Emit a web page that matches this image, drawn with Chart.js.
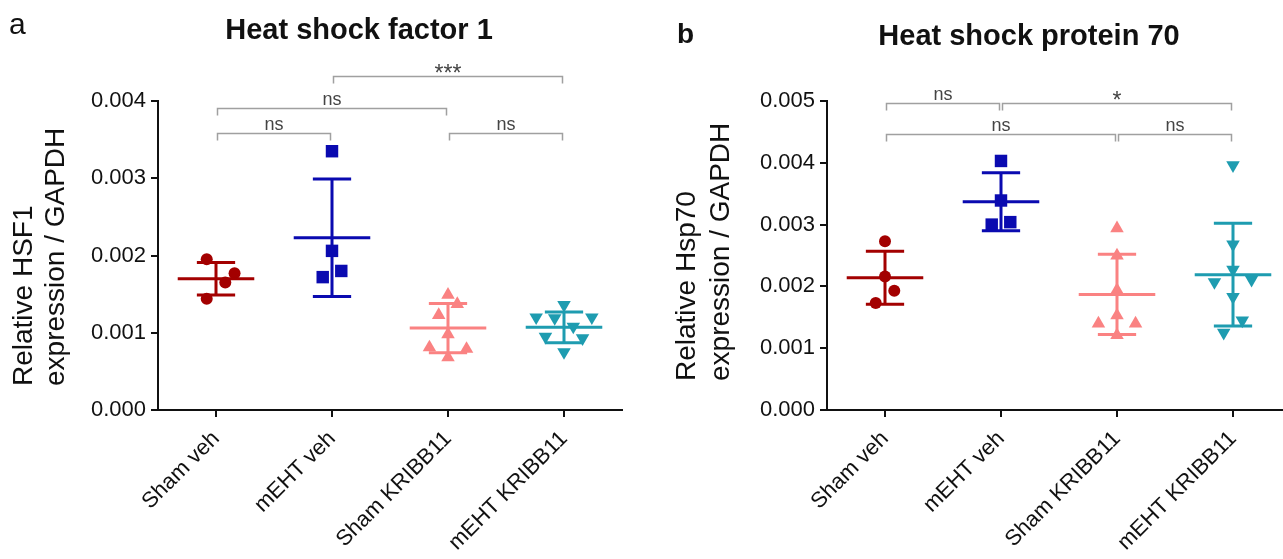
<!DOCTYPE html>
<html>
<head>
<meta charset="utf-8">
<script src="https://cdn.jsdelivr.net/npm/chart.js@4.4.1/dist/chart.umd.min.js"></script>
<style>
  html, body { margin: 0; padding: 0; background: #fff; width: 1283px; height: 559px; overflow: hidden; }
  .panel { position: absolute; top: 0; height: 559px; }
  #wrapA { left: 0; width: 718px; }
  #wrapB { left: 650px; width: 758px; }
  .txt { position: absolute; font-family: "Liberation Sans", Arial, sans-serif; color: #111; line-height: 1; white-space: nowrap; }
  .title { font-size: 29px; font-weight: bold; transform: translateX(-50%); }
</style>
</head>
<body>
<div class="panel" id="wrapA"><canvas id="chartA" width="718" height="559"></canvas></div>
<div class="panel" id="wrapB"><canvas id="chartB" width="758" height="559"></canvas></div>
<div class="txt" style="left:9px;top:9px;font-size:30px;">a</div>
<div class="txt" style="left:677px;top:20px;font-size:28px;font-weight:bold;">b</div>
<div class="txt title" style="left:359px;top:15px;">Heat shock factor 1</div>
<div class="txt title" style="left:1029px;top:21px;">Heat shock protein 70</div>
<script>
// groups / tick labels
const groups = ['Sham veh', 'mEHT veh', 'Sham KRIBB11', 'mEHT KRIBB11'];
const yTicksA = [0, 0.001, 0.002, 0.003, 0.004];
const yTickLabelsA = ['0.000', '0.001', '0.002', '0.003', '0.004'];
const yTicksB = [0, 0.001, 0.002, 0.003, 0.004, 0.005];
const yTickLabelsB = ['0.000', '0.001', '0.002', '0.003', '0.004', '0.005'];

// a: HSF1 / GAPDH, individual animals
const hsf1ShamVeh = [0.00195, 0.00177, 0.00165, 0.00144];
const hsf1MehtVeh = [0.00335, 0.00206, 0.00180, 0.00172];
const hsf1ShamKribb = [0.00149, 0.00137, 0.00123, 0.00098, 0.00081, 0.00079, 0.00068];
const hsf1MehtKribb = [0.00136, 0.00120, 0.00119, 0.00120, 0.00108, 0.00095, 0.00093, 0.00075];
const hsf1Mean = [0.00170, 0.00223, 0.00106, 0.00107];
const hsf1Sd = [0.00021, 0.00076, 0.00032, 0.00020];
// horizontal scatter of the dots, in category units
const hsf1Jitter = [
  [-0.08, 0.16, 0.08, -0.08],
  [0, 0, 0.08, -0.08],
  [0, 0.08, -0.08, 0, -0.16, 0.16, 0],
  [0, -0.24, -0.08, 0.24, 0.08, -0.16, 0.16, 0]
];
const bracketFromA = [0, 0, 1, 2];
const bracketToA = [1, 2, 3, 3];
const bracketLevelA = [0.00358, 0.00391, 0.00432, 0.00358];
const bracketLabelA = ['ns', 'ns', '***', 'ns'];

// b: Hsp70 / GAPDH
const hsp70ShamVeh = [0.00273, 0.00216, 0.00193, 0.00173];
const hsp70MehtVeh = [0.00403, 0.00339, 0.00300, 0.00304];
const hsp70ShamKribb = [0.00294, 0.00250, 0.00194, 0.00153, 0.00140, 0.00140, 0.00121];
const hsp70MehtKribb = [0.00396, 0.00268, 0.00227, 0.00207, 0.00211, 0.00183, 0.00145, 0.00125];
const hsp70Mean = [0.00214, 0.00337, 0.00187, 0.00219];
const hsp70Sd = [0.00043, 0.00047, 0.00065, 0.00083];
const hsp70Jitter = [
  [0, 0, 0.08, -0.08],
  [0, 0, -0.08, 0.08],
  [0, 0, 0, 0, -0.16, 0.16, 0],
  [0, 0, 0, -0.16, 0.16, 0, 0.08, -0.08]
];
const bracketFromB = [0, 1, 0, 2];
const bracketToB = [1, 3, 2, 3];
const bracketLevelB = [0.00496, 0.00496, 0.00447, 0.00447];
const bracketLabelB = ['ns', '*', 'ns', 'ns'];

const colors = ['#a30000', '#0a0ab0', '#fa8282', '#1e9cb0'];
const shapes = ['circle', 'rect', 'triangle', 'triangle'];
const radii = [6, 8.8, 7.8, 7.8];
const rotations = [0, 0, 0, 180];
const FONT = '"Liberation Sans", Arial, sans-serif';

function statsPlugin(cfg) {
  return {
    id: 'stats',
    afterDatasetsDraw(chart) {
      const { ctx, scales: { x, y } } = chart;
      ctx.save();
      ctx.lineCap = 'butt';
      cfg.mean.forEach((m, i) => {
        const cx = x.getPixelForValue(i);
        const hw = x.getPixelForValue(i + 0.33) - cx;
        const cw = x.getPixelForValue(i + 0.165) - cx;
        const yTop = y.getPixelForValue(m + cfg.sd[i]);
        const yBot = y.getPixelForValue(m - cfg.sd[i]);
        const yMid = y.getPixelForValue(m);
        ctx.strokeStyle = colors[i];
        ctx.lineWidth = 3;
        ctx.beginPath();
        ctx.moveTo(cx - hw, yMid); ctx.lineTo(cx + hw, yMid);
        ctx.moveTo(cx, yTop); ctx.lineTo(cx, yBot);
        ctx.moveTo(cx - cw, yTop); ctx.lineTo(cx + cw, yTop);
        ctx.moveTo(cx - cw, yBot); ctx.lineTo(cx + cw, yBot);
        ctx.stroke();
      });
      cfg.bFrom.forEach((f, k) => {
        const x1 = x.getPixelForValue(f) + 1.5;
        const x2 = x.getPixelForValue(cfg.bTo[k]) - 1.5;
        const yy = Math.round(y.getPixelForValue(cfg.bLevel[k])) + 0.5;
        ctx.strokeStyle = '#a0a0a0';
        ctx.lineWidth = 1.5;
        ctx.beginPath();
        ctx.moveTo(x1, yy + 7); ctx.lineTo(x1, yy); ctx.lineTo(x2, yy); ctx.lineTo(x2, yy + 7);
        ctx.stroke();
        const star = cfg.bLabel[k].indexOf('*') >= 0;
        ctx.fillStyle = '#444';
        ctx.textAlign = 'center';
        ctx.textBaseline = 'alphabetic';
        ctx.font = (star ? '23px ' : '18px ') + FONT;
        ctx.fillText(cfg.bLabel[k], (x1 + x2) / 2, star ? yy + 4.5 : yy - 4);
      });
      // y-axis title, two lines starting from the bottom
      ctx.fillStyle = '#111';
      ctx.font = '28px ' + FONT;
      ctx.textAlign = 'left';
      cfg.yTitle.forEach((line, k) => {
        ctx.save();
        ctx.translate(cfg.yTitleX[k], cfg.yTitleStart);
        ctx.rotate(-Math.PI / 2);
        ctx.fillText(line, 0, 0);
        ctx.restore();
      });
      ctx.restore();
    }
  };
}

function makePanel(id, cfg) {
  const datasets = cfg.values.map((vals, i) => ({
    data: vals.map((v, k) => ({ x: i + cfg.jitter[i][k], y: v })),
    pointStyle: shapes[i],
    pointRadius: radii[i],
    pointRotation: rotations[i],
    backgroundColor: colors[i],
    borderColor: colors[i],
    borderWidth: 0,
    showLine: false,
    clip: false
  }));
  return new Chart(document.getElementById(id), {
    type: 'scatter',
    data: { datasets },
    plugins: [statsPlugin(cfg)],
    options: {
      responsive: false,
      animation: false,
      events: [],
      layout: { padding: { left: 0, right: cfg.padRight, top: 101, bottom: 0 } },
      plugins: {
        legend: { display: false },
        tooltip: { enabled: false },
        title: { display: false }
      },
      scales: {
        x: {
          type: 'linear',
          min: -0.5,
          max: 3.5,
          afterBuildTicks: s => { s.ticks = groups.map((g, i) => ({ value: i })); },
          afterFit: s => { s.height = 149; },
          grid: { display: true, drawOnChartArea: false, drawTicks: true, tickLength: 7, color: '#111', lineWidth: 2 },
          border: { display: true, color: '#111', width: 2 },
          ticks: {
            autoSkip: false,
            minRotation: 45,
            maxRotation: 45,
            padding: 9,
            color: '#111',
            font: { family: FONT, size: 22 },
            callback: v => groups[v]
          }
        },
        y: {
          min: 0,
          max: cfg.yMax,
          afterBuildTicks: s => { s.ticks = cfg.yTicks.map(v => ({ value: v })); },
          afterFit: s => { s.width = cfg.yWidth; },
          grid: { display: true, drawOnChartArea: false, drawTicks: true, tickLength: 7, color: '#111', lineWidth: 2 },
          border: { display: true, color: '#111', width: 2 },
          ticks: {
            padding: 5,
            color: '#111',
            font: { family: FONT, size: 22 },
            callback: (v, i) => cfg.yLabels[i]
          },
          title: { display: false }
        }
      }
    }
  });
}

makePanel('chartA', {
  values: [hsf1ShamVeh, hsf1MehtVeh, hsf1ShamKribb, hsf1MehtKribb],
  jitter: hsf1Jitter,
  mean: hsf1Mean, sd: hsf1Sd,
  bFrom: bracketFromA, bTo: bracketToA, bLevel: bracketLevelA, bLabel: bracketLabelA,
  yMax: 0.004, yTicks: yTicksA, yLabels: yTickLabelsA,
  yTitle: ['Relative HSF1', 'expression / GAPDH'],
  yTitleX: [32, 64], yTitleStart: 386,
  yWidth: 158, padRight: 96
});

makePanel('chartB', {
  values: [hsp70ShamVeh, hsp70MehtVeh, hsp70ShamKribb, hsp70MehtKribb],
  jitter: hsp70Jitter,
  mean: hsp70Mean, sd: hsp70Sd,
  bFrom: bracketFromB, bTo: bracketToB, bLevel: bracketLevelB, bLabel: bracketLabelB,
  yMax: 0.005, yTicks: yTicksB, yLabels: yTickLabelsB,
  yTitle: ['Relative Hsp70', 'expression / GAPDH'],
  yTitleX: [45, 79], yTitleStart: 381,
  yWidth: 177, padRight: 117
});
</script>
</body>
</html>
